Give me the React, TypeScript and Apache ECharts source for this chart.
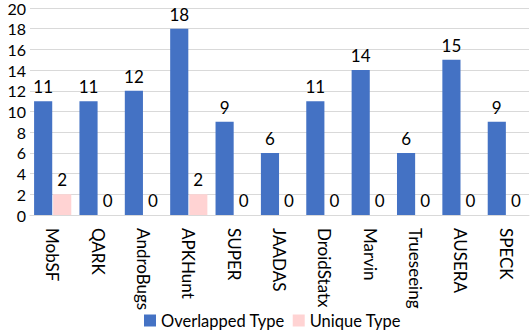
import React, { useEffect, useRef } from "react";
import * as echarts from "echarts";

const categories = ["MobSF", "QARK", "AndroBugs", "APKHunt", "SUPER", "JAADAS", "DroidStatx", "Marvin", "Trueseeing", "AUSERA", "SPECK"];
const overlapped = [11, 11, 12, 18, 9, 6, 11, 14, 6, 15, 9];
const unique = [2, 0, 0, 2, 0, 0, 0, 0, 0, 0, 0];
const seriesNames = ["Overlapped Type", "Unique Type"];

const FONT = "Lato";

export default function App() {
  const ref = useRef<HTMLDivElement>(null);
  useEffect(() => {
    if (!ref.current) return;
    const chart = echarts.init(ref.current, null, { renderer: "svg" });
    chart.setOption({
      animation: false,
      textStyle: { fontFamily: FONT },
      grid: { left: 30, right: 3, top: 8, bottom: 121, containLabel: false },
      legend: {
        bottom: 2,
        left: 139,
        itemWidth: 12,
        itemHeight: 12,
        itemGap: 8,
        icon: "rect",
        textStyle: { fontSize: 16.5, color: "#000", fontFamily: FONT },
        data: seriesNames,
      },
      xAxis: {
        type: "category",
        data: categories,
        axisLine: { lineStyle: { color: "#d9d9d9" } },
        axisTick: { show: false },
        axisLabel: { rotate: -90, fontSize: 17, color: "#000", margin: 13, fontFamily: FONT, interval: 0 },
      },
      yAxis: {
        type: "value",
        min: 0,
        max: 20,
        interval: 2,
        axisLine: { show: false },
        axisTick: { show: false },
        splitLine: { lineStyle: { color: "#d9d9d9" } },
        axisLabel: { fontSize: 16, color: "#000", margin: 4, fontFamily: FONT },
      },
      series: [
        {
          name: seriesNames[0],
          type: "bar",
          data: overlapped,
          barGap: "5%",
          barCategoryGap: "18%",
          itemStyle: { color: "#4472C4" },
          label: { show: true, position: "top", fontSize: 17, color: "#000", distance: 6, fontFamily: FONT },
        },
        {
          name: seriesNames[1],
          type: "bar",
          data: unique,
          itemStyle: { color: "#FFD3D3" },
          label: { show: true, position: "top", fontSize: 17, color: "#000", distance: 6, fontFamily: FONT },
        },
      ],
    });
    return () => chart.dispose();
  }, []);
  return <div ref={ref} style={{ width: 532, height: 336, position: "absolute", left: 0, top: 0 }} />;
}
